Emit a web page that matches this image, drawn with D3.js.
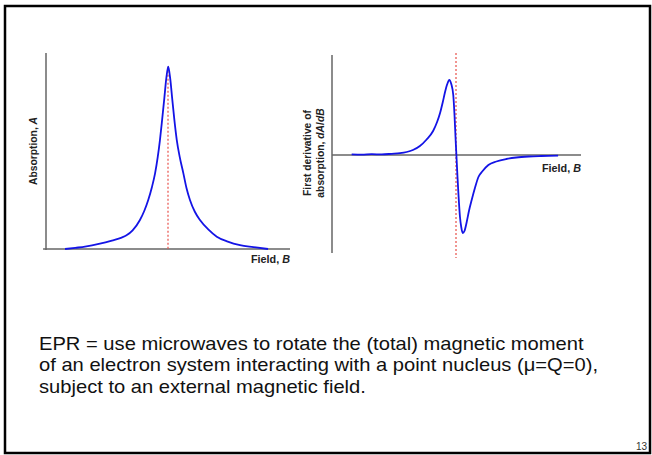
<!DOCTYPE html>
<html><head><meta charset="utf-8">
<script src="https://cdn.jsdelivr.net/npm/d3@7"></script>
<style>body{margin:0;background:#fff}svg{display:block}</style>
</head><body>
<svg id="c" width="652" height="455"></svg>
<script>
// Absorption curve (field in arbitrary units 0..100, absorption 0..1)
const absField = [7.8,12,16,22.1,27,31,33,35.5,38.5,40.3,41.9,43.4,44.7,45.8,46.7,47.6,48.5,49.3,50.1,50.9,51.7,52.6,53.6,54.8,56.3,57.6,59,61,63.1,66.5,70,74.5,79.5,85,91];
const absValue = [0,0.006,0.012,0.027,0.043,0.058,0.07,0.095,0.148,0.195,0.25,0.315,0.386,0.47,0.556,0.66,0.77,0.87,0.93,0.87,0.77,0.66,0.556,0.47,0.386,0.31,0.25,0.19,0.148,0.1,0.063,0.038,0.02,0.01,0];
// First derivative curve
const derField = [7.9,12,16,20,24,27.3,30,32.5,35.3,38,40.6,42.2,43.4,44.5,45.4,46.3,47.1,47.9,48.7,49.2,49.6,50.0,50.4,50.8,51.4,51.9,52.5,53.2,54.1,55,56.1,57.4,58.8,60.5,62.8,66,70,74,79,84,90.8];
const derValue = [0.006,0.004,0.008,0.006,0.012,0.018,0.03,0.05,0.09,0.155,0.24,0.33,0.42,0.53,0.63,0.71,0.75,0.71,0.60,0.40,0.18,-0.02,-0.22,-0.40,-0.62,-0.72,-0.78,-0.76,-0.67,-0.56,-0.45,-0.33,-0.22,-0.16,-0.10,-0.065,-0.04,-0.025,-0.015,-0.01,-0.006];
const resonanceField = 50;
const bodyLines = [
  "EPR = use microwaves to rotate the (total) magnetic moment",
  "of an electron system interacting with a point nucleus (\u03bc=Q=0),",
  "subject to an external magnetic field."
];
const pageNumber = "13";

const svg = d3.select("#c");
// slide frame
svg.append("rect").attr("x",5).attr("y",6).attr("width",645).attr("height",447)
  .attr("fill","none").attr("stroke","#000").attr("stroke-width",2.5);

const axisColor = "#666", curveColor = "#1414e6", markColor = "#e8504a";
const bold = "Liberation Sans, Arial, sans-serif";

// ---- Left chart ----
const xL = d3.scaleLinear().domain([0,100]).range([46,290]);
const yL = d3.scaleLinear().domain([0,1]).range([249,53]);
const gL = svg.append("g");
gL.append("line").attr("x1",xL(0)).attr("x2",xL(0)).attr("y1",yL(1)).attr("y2",yL(0)+1)
  .attr("stroke",axisColor).attr("stroke-width",1.5);
gL.append("line").attr("x1",xL(-1.2)).attr("x2",xL(100)).attr("y1",yL(0)).attr("y2",yL(0))
  .attr("stroke",axisColor).attr("stroke-width",1.5);
gL.append("line").attr("x1",xL(resonanceField)).attr("x2",xL(resonanceField))
  .attr("y1",yL(0.93)).attr("y2",yL(0))
  .attr("stroke",markColor).attr("stroke-width",1.2).attr("stroke-dasharray","2,2");
const lineL = d3.line().x((d,i)=>xL(absField[i])).y(d=>yL(d)).curve(d3.curveMonotoneX);
gL.append("path").attr("d",lineL(absValue)).attr("fill","none")
  .attr("stroke",curveColor).attr("stroke-width",1.8);
const tA = gL.append("text").attr("transform",`translate(37,151) rotate(-90)`)
  .attr("text-anchor","middle").attr("font-family",bold).attr("font-weight","bold")
  .attr("font-size",10.3).attr("fill","#222");
tA.append("tspan").text("Absorption, ");
tA.append("tspan").attr("font-style","italic").text("A");
const fL = gL.append("text").attr("x",290).attr("y",263).attr("text-anchor","end")
  .attr("font-family",bold).attr("font-weight","bold").attr("font-size",10.8).attr("fill","#222");
fL.append("tspan").text("Field, ");
fL.append("tspan").attr("font-style","italic").text("B");

// ---- Right chart ----
const xR = d3.scaleLinear().domain([0,100]).range([332,581]);
const yR = d3.scaleLinear().domain([-1,1]).range([255,55]);
const gR = svg.append("g");
gR.append("line").attr("x1",xR(0)).attr("x2",xR(0)).attr("y1",yR(1)).attr("y2",yR(-0.98))
  .attr("stroke",axisColor).attr("stroke-width",1.5);
gR.append("line").attr("x1",xR(0)).attr("x2",xR(100)).attr("y1",yR(0)).attr("y2",yR(0))
  .attr("stroke",axisColor).attr("stroke-width",1.5);
gR.append("line").attr("x1",xR(49.8)).attr("x2",xR(49.8)).attr("y1",yR(1.02)).attr("y2",yR(-1.03))
  .attr("stroke",markColor).attr("stroke-width",1.2).attr("stroke-dasharray","2,2");
const lineR = d3.line().x((d,i)=>xR(derField[i])).y(d=>yR(d)).curve(d3.curveMonotoneX);
gR.append("path").attr("d",lineR(derValue)).attr("fill","none")
  .attr("stroke",curveColor).attr("stroke-width",1.8);
const tR = gR.append("text").attr("transform",`translate(311,153) rotate(-90)`)
  .attr("text-anchor","middle").attr("font-family",bold).attr("font-weight","bold")
  .attr("font-size",10.3).attr("fill","#222");
tR.append("tspan").attr("x",0).attr("dy",0).text("First derivative of");
const l2 = tR.append("tspan").attr("x",0).attr("dy",13);
l2.append("tspan").text("absorption, ");
l2.append("tspan").attr("font-style","italic").text("dA");
l2.append("tspan").text("/");
l2.append("tspan").attr("font-style","italic").text("dB");
const fR = gR.append("text").attr("x",581).attr("y",172).attr("text-anchor","end")
  .attr("font-family",bold).attr("font-weight","bold").attr("font-size",10.8).attr("fill","#222");
fR.append("tspan").text("Field, ");
fR.append("tspan").attr("font-style","italic").text("B");

// ---- Body text ----
const body = svg.append("g").attr("transform","translate(39,0)");
const bt = body.selectAll("text").data(bodyLines).join("text")
  .attr("x",0).attr("y",(d,i)=>350+i*21.4)
  .attr("font-family","'Liberation Sans Narrow','Arial Narrow','Liberation Sans',Arial,sans-serif")
  .attr("font-size",18.6).attr("fill","#111").text(d=>d);
const w0 = bt.nodes()[0].getComputedTextLength();
const sx = 545 / w0;
body.attr("transform",`translate(39,0) scale(${sx},1)`);

svg.append("text").attr("x",647).attr("y",450).attr("text-anchor","end")
  .attr("font-family","Liberation Sans, Arial, sans-serif").attr("font-size",10).attr("fill","#333")
  .text(pageNumber);
</script>
</body></html>
